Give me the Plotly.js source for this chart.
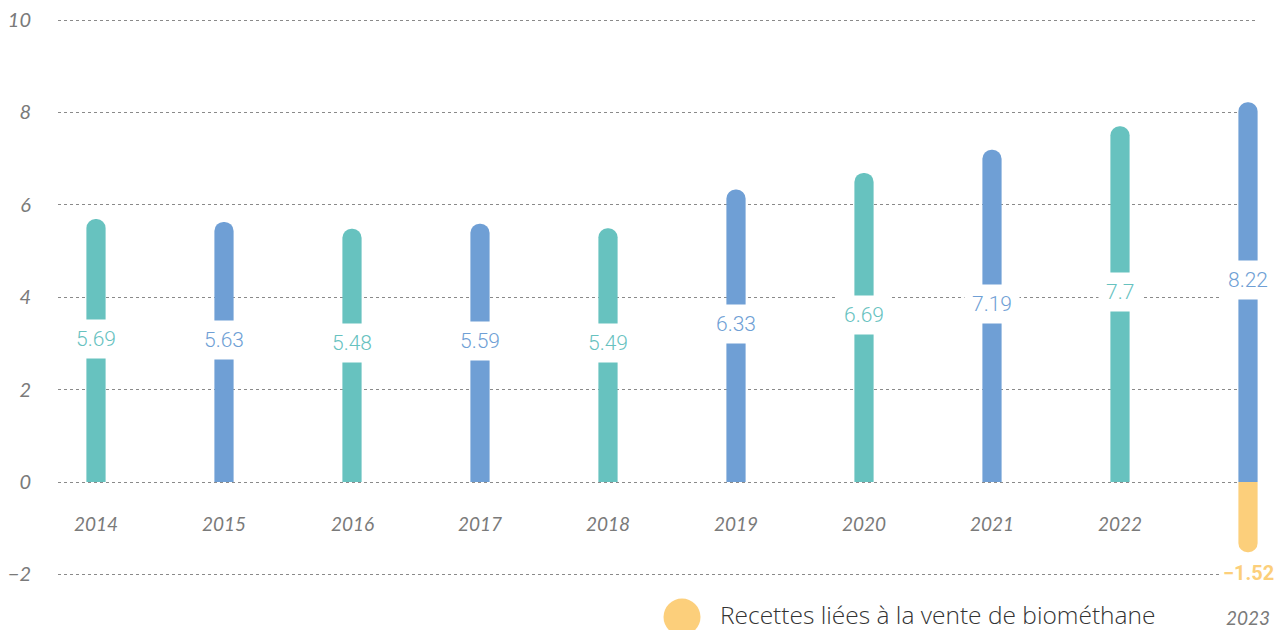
<!DOCTYPE html>
<html>
<head>
<meta charset="utf-8">
<script src="https://cdn.plot.ly/plotly-3.0.1.min.js"></script>
<style>
html,body{margin:0;padding:0;background:#fff;}
#chart{width:1274px;height:630px;}
</style>
</head>
<body>
<div id="chart"></div>
<script>
// ---- data ----
const years = [2014, 2015, 2016, 2017, 2018, 2019, 2020, 2021, 2022, 2023];
const values = [5.69, 5.63, 5.48, 5.59, 5.49, 6.33, 6.69, 7.19, 7.7, 8.22];
const biomethaneYears = [2023];
const biomethaneValues = [-1.52];
const biomethaneName = "Recettes liées à la vente de biométhane";
const yTicks = [-2, 0, 2, 4, 6, 8, 10];
const yTickText = ["−2", "0", "2", "4", "6", "8", "10"];

// ---- styles ----
const TEAL = "#67c2bf";
const BLUE = "#6f9fd5";
const YELLOW = "#fccf7b";
const colors = years.map((y, i) => (i % 2 === 0 ? TEAL : BLUE));

const traces = [
  {
    type: "bar",
    x: years,
    y: values,
    width: 0.15,
    marker: { color: colors, cornerradius: "50%", line: { width: 0 } },
    hoverinfo: "x+y",
    showlegend: false
  },
  {
    type: "bar",
    x: biomethaneYears,
    y: biomethaneValues,
    name: biomethaneName,
    width: 0.15,
    marker: { color: YELLOW, cornerradius: "50%", line: { width: 0 } },
    hoverinfo: "x+y",
    showlegend: false
  }
];

const annotations = [];
// value labels
years.forEach((yr, i) => {
  annotations.push({
    x: yr, y: values[i] / 2, xref: "x", yref: "y",
    yshift: 12,
    text: String(values[i]),
    showarrow: false,
    bgcolor: "#ffffff",
    borderpad: 7,
    font: { family: "Roboto, sans-serif", size: 21, color: colors[i], weight: 300 }
  });
});
// negative label
biomethaneYears.forEach((yr, i) => {
  annotations.push({
    x: yr, y: biomethaneValues[i], xref: "x", yref: "y",
    yshift: -21,
    text: "<b>" + String(biomethaneValues[i]).replace("-", "−") + "</b>",
    showarrow: false,
    bgcolor: "#ffffff",
    borderpad: 3,
    font: { family: "Roboto, sans-serif", size: 20, color: YELLOW }
  });
});
// category labels
years.forEach((yr, i) => {
  const isNeg = biomethaneYears.indexOf(yr) >= 0;
  annotations.push({
    x: yr, xref: "x", yref: "y",
    y: isNeg ? biomethaneValues[biomethaneYears.indexOf(yr)] : 0,
    yshift: isNeg ? -65 : -41,
    text: String(yr),
    showarrow: false,
    font: { family: "Lato, sans-serif", size: 19, color: "#7a7a7a", style: "italic" }
  });
});
// legend text
annotations.push({
  xref: "paper", yref: "paper",
  x: (718 - 58) / 1200, y: (630 - 614) / 619,
  xanchor: "left", yanchor: "middle",
  text: biomethaneName,
  showarrow: false,
  font: { family: "'Open Sans', sans-serif", size: 24.5, color: "#333333", weight: 300 }
});

const layout = {
  width: 1274,
  height: 630,
  margin: { l: 58, r: 16, t: 11, b: 0, pad: 0 },
  paper_bgcolor: "#ffffff",
  plot_bgcolor: "#ffffff",
  barmode: "overlay",
  showlegend: false,
  xaxis: {
    range: [2014 - 38 / 128, 2023 + 10 / 128],
    showgrid: false,
    zeroline: false,
    showticklabels: false,
    showline: false,
    ticks: ""
  },
  yaxis: {
    range: [(482 - 630) / 46.2, (482 - 11) / 46.2],
    tickvals: yTicks,
    ticktext: yTickText,
    showgrid: true,
    gridcolor: "#8a8a8a",
    gridwidth: 1,
    griddash: "3px,3px",
    zeroline: false,
    showline: false,
    ticks: "",
    ticklabelstandoff: 26,
    tickfont: { family: "Lato, sans-serif", size: 20, color: "#7a7a7a", style: "italic" }
  },
  annotations: annotations,
  shapes: [
    {
      type: "circle", xref: "paper", yref: "paper",
      x0: (663.5 - 58) / 1200, x1: (700.5 - 58) / 1200,
      y0: (630 - 635.5) / 619, y1: (630 - 598.5) / 619,
      fillcolor: YELLOW, line: { width: 0 }, layer: "above"
    }
  ]
};

Plotly.newPlot("chart", traces, layout, { displayModeBar: false, staticPlot: true });
</script>
</body>
</html>
